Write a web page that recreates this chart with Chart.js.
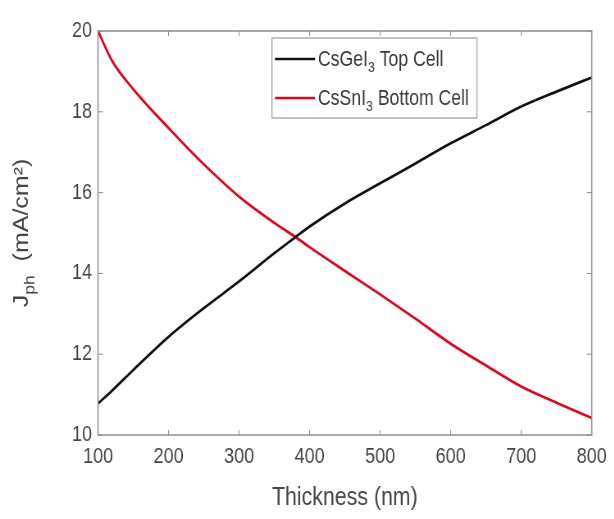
<!DOCTYPE html>
<html>
<head>
<meta charset="utf-8">
<script src="https://cdn.jsdelivr.net/npm/chart.js@4"></script>
<style>
  html, body { margin: 0; padding: 0; background: #fff; overflow: hidden; width: 614px; height: 519px; }
  /* the source figure is a horizontally squeezed MATLAB export, so the canvas is drawn wider and squeezed back */
  #graphCanvas { display: block; transform: scaleX(0.82); transform-origin: 0 0; }
</style>
</head>
<body>
<canvas id="graphCanvas" width="749" height="519"></canvas>
<script>
// thickness of the absorber (nm)
const thickness = [100, 120, 150, 200, 250, 300, 350, 380, 400, 450, 500, 550, 600, 650, 700, 750, 800];
// photocurrent density (mA/cm2)
const topCell    = [10.78, 11.10, 11.61, 12.43, 13.14, 13.80, 14.50, 14.90, 15.16, 15.73, 16.23, 16.72, 17.22, 17.67, 18.13, 18.50, 18.85];
const bottomCell = [20.00, 19.26, 18.56, 17.60, 16.70, 15.90, 15.25, 14.90, 14.65, 14.06, 13.48, 12.88, 12.26, 11.72, 11.20, 10.80, 10.42];
const seriesLabels = ['CsGeI_3 Top Cell', 'CsSnI_3 Bottom Cell'];
const seriesColors = ['#111111', '#e3061b'];
const xTicks = [100, 200, 300, 400, 500, 600, 700, 800];
const yTicks = [10, 12, 14, 16, 18, 20];

const SQ = 0.82; // horizontal squeeze
const FONT = '"Liberation Sans", Arial, sans-serif';
const AXIS_GRAY = '#8c8c8c';
const TEXT_GRAY = '#454545';

function toPoints(ys) {
    return thickness.map((x, i) => ({ x: x, y: ys[i] }));
}

// draws text where "_n" means subscript n
function drawRich(ctx, text, x, y, size, measureOnly) {
    let parts = text.split('_');
    let cx = x;
    for (let i = 0; i < parts.length; i++) {
        let p = parts[i];
        if (i > 0) {
            let sub = p.charAt(0);
            ctx.font = (size * 0.7) + 'px ' + FONT;
            if (!measureOnly) ctx.fillText(sub, cx, y + size * 0.3);
            cx += ctx.measureText(sub).width;
            p = p.slice(1);
        }
        ctx.font = size + 'px ' + FONT;
        if (!measureOnly) ctx.fillText(p, cx, y);
        cx += ctx.measureText(p).width;
    }
    return cx - x;
}

const boxPlugin = {
    id: 'matlabBox',
    afterDatasetsDraw(chart) {
        const ctx = chart.ctx;
        const a = chart.chartArea;
        const xs = chart.scales.x, ys = chart.scales.y;
        ctx.save();
        ctx.strokeStyle = AXIS_GRAY;
        ctx.lineWidth = 1.5;
        ctx.strokeRect(a.left, a.top, a.right - a.left, a.bottom - a.top);
        ctx.lineWidth = 1;
        const t = 5;
        xTicks.forEach(v => {
            const px = xs.getPixelForValue(v);
            ctx.beginPath();
            ctx.moveTo(px, a.bottom); ctx.lineTo(px, a.bottom - t);
            ctx.moveTo(px, a.top); ctx.lineTo(px, a.top + t);
            ctx.stroke();
        });
        yTicks.forEach(v => {
            const py = ys.getPixelForValue(v);
            ctx.beginPath();
            ctx.moveTo(a.left, py); ctx.lineTo(a.left + t / SQ, py);
            ctx.moveTo(a.right, py); ctx.lineTo(a.right - t / SQ, py);
            ctx.stroke();
        });
        ctx.restore();
    },
    afterDraw(chart) {
        const ctx = chart.ctx;
        ctx.save();
        // legend box
        const lx = 272 / SQ, ly = 38, lw = 205 / SQ, lh = 80;
        ctx.fillStyle = '#ffffff';
        ctx.fillRect(lx, ly, lw, lh);
        ctx.strokeStyle = '#9a9a9a';
        ctx.lineWidth = 1.2;
        ctx.strokeRect(lx, ly, lw, lh);
        const rows = [59, 98];
        seriesLabels.forEach((lab, i) => {
            ctx.strokeStyle = seriesColors[i];
            ctx.lineWidth = 2.5;
            ctx.beginPath();
            ctx.moveTo(lx + 3 / SQ, rows[i]);
            ctx.lineTo(lx + 43 / SQ, rows[i]);
            ctx.stroke();
            ctx.fillStyle = '#3a3a3a';
            ctx.textBaseline = 'alphabetic';
            ctx.textAlign = 'left';
            drawRich(ctx, lab, lx + 46 / SQ, rows[i] + 7, 21.5);
        });
        // y axis title with subscript
        const a = chart.chartArea;
        ctx.translate(28 / SQ, (a.top + a.bottom) / 2);
        ctx.rotate(-Math.PI / 2);
        ctx.fillStyle = TEXT_GRAY;
        ctx.textAlign = 'left';
        ctx.textBaseline = 'alphabetic';
        const yTitle = 'J_p_h  (mA/cm²)';
        const w = drawRich(ctx, yTitle, 0, 0, 25, true);
        drawRich(ctx, yTitle, -w / 2, 0, 25);
        ctx.restore();
    }
};

function showGraph() {
    const graphTarget = document.getElementById('graphCanvas');
    new Chart(graphTarget, {
        type: 'line',
        data: {
            datasets: [
                {
                    label: seriesLabels[0],
                    data: toPoints(topCell),
                    borderColor: seriesColors[0],
                    borderWidth: 2.7,
                    pointRadius: 0,
                    cubicInterpolationMode: 'monotone'
                },
                {
                    label: seriesLabels[1],
                    data: toPoints(bottomCell),
                    borderColor: seriesColors[1],
                    borderWidth: 2.7,
                    pointRadius: 0,
                    cubicInterpolationMode: 'monotone'
                }
            ]
        },
        options: {
            responsive: false,
            animation: false,
            devicePixelRatio: 1,
            layout: { padding: { top: 31, right: 21 / SQ, left: 0, bottom: 0 } },
            plugins: { legend: { display: false }, tooltip: { enabled: false } },
            scales: {
                x: {
                    type: 'linear',
                    min: 100, max: 800,
                    afterBuildTicks: s => { s.ticks = xTicks.map(v => ({ value: v })); },
                    afterFit: s => { s.height = 84; },
                    grid: { display: false, drawTicks: false },
                    border: { display: false },
                    ticks: {
                        color: TEXT_GRAY,
                        padding: 9,
                        maxRotation: 0,
                        font: { family: FONT, size: 22 }
                    },
                    title: {
                        display: true,
                        text: 'Thickness (nm)',
                        color: TEXT_GRAY,
                        font: { family: FONT, size: 26 },
                        padding: { top: 0, bottom: 6 }
                    }
                },
                y: {
                    type: 'linear',
                    min: 10, max: 20,
                    afterBuildTicks: s => { s.ticks = yTicks.map(v => ({ value: v })); },
                    afterFit: s => { s.width = 98 / SQ; },
                    grid: { display: false, drawTicks: false },
                    border: { display: false },
                    ticks: {
                        color: TEXT_GRAY,
                        padding: 6 / SQ,
                        font: { family: FONT, size: 22 }
                    }
                }
            }
        },
        plugins: [boxPlugin]
    });
}

showGraph();
</script>
</body>
</html>
